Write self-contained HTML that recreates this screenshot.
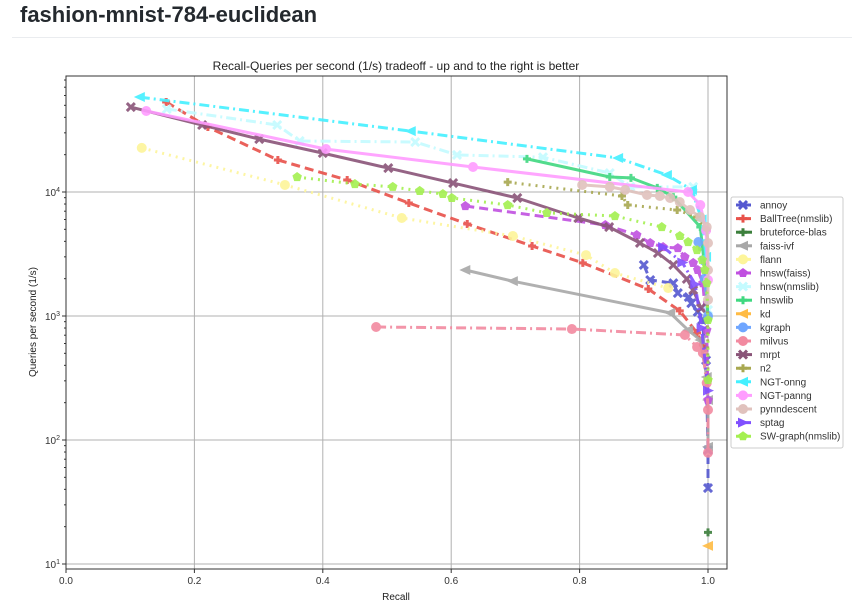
<!DOCTYPE html>
<html><head><meta charset="utf-8"><style>
body{margin:0;background:#fff;width:866px;height:616px;overflow:hidden;font-family:"Liberation Sans",sans-serif}
h1{position:absolute;left:20px;top:2px;margin:0;font-size:22px;font-weight:bold;color:#24292e}
#rule{position:absolute;left:12px;top:37px;width:840px;height:1px;background:#eaecef}
svg{position:absolute;left:0;top:0}
</style></head><body>
<h1>fashion-mnist-784-euclidean</h1>
<div id="rule"></div>
<svg id="chart" width="866" height="616"></svg>
<script>
const seriesNames=["annoy","BallTree(nmslib)","bruteforce-blas","faiss-ivf","flann","hnsw(faiss)","hnsw(nmslib)","hnswlib","kd","kgraph","milvus","mrpt","n2","NGT-onng","NGT-panng","pynndescent","sptag","SW-graph(nmslib)"];
const annoyX=[0.9,0.91,0.946,0.953,0.97,0.974,0.984,0.991,0.997,1.0,1.0];
const annoyY=[2580,1950,1840,1530,1420,1270,1080,930,440,83,41];
const ballX=[0.156,0.221,0.33,0.438,0.534,0.625,0.726,0.805,0.907,0.956,0.983,0.992];
const ballY=[53200,33400,18100,12500,8150,5520,3670,2680,1650,1100,730,583];
const bruteX=[1.0];
const bruteY=[18];
const faissX=[0.622,0.696,0.941,0.969,0.988,0.998,1.0,1.0];
const faissY=[2350,1910,1060,770,640,322,210,88];
const flannX=[0.118,0.341,0.523,0.696,0.81,0.855,0.938];
const flannY=[22700,11400,6170,4420,3100,2220,1680];
const hfaissX=[0.622,0.84,0.889,0.91,0.93,0.953,0.964,0.977,0.984,0.992,0.998,1.0];
const hfaissY=[7710,5420,4500,3880,3600,3530,2990,2680,2350,1840,770,210];
const hnmsX=[0.157,0.329,0.364,0.544,0.609,0.743,0.847,0.879,0.977,0.995,1.0];
const hnmsY=[46700,34700,25800,25300,19900,19100,14200,11000,11000,4900,1120];
const hlibX=[0.718,0.847,0.88,0.921,0.946,0.988,0.997,1.0];
const hlibY=[18500,13200,13000,10800,9100,5220,1950,930];
const kdX=[1.0];
const kdY=[14];
const kgraphX=[0.985,0.995,1.0];
const kgraphY=[3950,2000,1000];
const milvusX=[0.483,0.788,0.964,0.983,0.992,0.998,1.0,1.0];
const milvusY=[815,785,703,562,504,288,175,79];
const mrptX=[0.101,0.212,0.301,0.4,0.502,0.603,0.703,0.798,0.846,0.894,0.922,0.946,0.967,0.977,0.989];
const mrptY=[48400,34700,26700,20600,15600,11800,8950,6170,5220,3880,3220,2580,1990,1620,1160];
const n2X=[0.688,0.866,0.875,0.952,0.983,0.998,1.0];
const n2Y=[12000,9290,7850,7160,6280,4900,305];
const onngX=[0.115,0.537,0.86,0.936,0.975,0.99,0.997];
const onngY=[58300,31000,18800,13700,10400,6000,3000];
const panngX=[0.125,0.405,0.634,0.969,0.988,0.997,1.0];
const panngY=[45000,22200,15900,10000,7850,4900,1950];
const pynnX=[0.804,0.847,0.871,0.905,0.925,0.941,0.956,0.972,0.988,0.998,1.0,1.0,1.0];
const pynnY=[11400,11000,10400,9460,9290,8950,8300,7160,6280,5220,3880,2350,1350];
const sptagX=[0.93,0.96,0.98,0.99,1.0];
const sptagY=[3600,2700,1800,800,250];
const swX=[0.36,0.45,0.509,0.551,0.587,0.601,0.688,0.749,0.855,0.928,0.956,0.969,0.983,0.991,0.995,0.998,1.0,1.0];
const swY=[13200,11600,11000,10200,9640,8950,7850,6780,6400,5220,4420,3950,3400,2830,2350,1840,930,305];
const xTicks=[0.0,0.2,0.4,0.6,0.8,1.0];
const xTickLabels=["0.0","0.2","0.4","0.6","0.8","1.0"];
const yTickExps=[1,2,3,4];

const NS="http://www.w3.org/2000/svg";
const svg=document.getElementById('chart');
const L=66,R=727,T=76,B=569;
function xs(v){return 66+v*642;}
function ys(v){return 192-(Math.log10(v)-4)*124;}
function mk(tag,attrs,parent){const e=document.createElementNS(NS,tag);for(const k in attrs)e.setAttribute(k,attrs[k]);(parent||svg).appendChild(e);return e;}

const t=mk('text',{x:396,y:70,'text-anchor':'middle','font-size':12,fill:'#222'});


t.textContent='Recall-Queries per second (1/s) tradeoff - up and to the right is better';

// grid
xTicks.forEach((v,i)=>{
  const g=mk('line',{x1:xs(v),x2:xs(v),y1:T,y2:B,stroke:'#b0b0b0','stroke-width':1});
  
  
  mk('line',{x1:xs(v),x2:xs(v),y1:B,y2:B+4,stroke:'#333'});
  const lb=mk('text',{x:xs(v),y:B+15,'text-anchor':'middle','font-size':10,fill:'#333'});
  
  
  lb.textContent=xTickLabels[i];
});
yTickExps.forEach(e=>{
  const y=ys(Math.pow(10,e));
  const g=mk('line',{x1:L,x2:R,y1:y,y2:y,stroke:'#b0b0b0','stroke-width':1});
  
  
  mk('line',{x1:L-4,x2:L,y1:y,y2:y,stroke:'#333'});
  const lb=mk('text',{x:L-6,y:y+4,'text-anchor':'end','font-size':10,fill:'#333'});
  
  
  lb.innerHTML='10<tspan dy="-4" font-size="7">'+e+'</tspan>';
  for(let m=2;m<10;m++){const yy=ys(m*Math.pow(10,e));if(yy>T&&yy<B)mk('line',{x1:L-2,x2:L,y1:yy,y2:yy,stroke:'#333'});}
});
const fr=mk('rect',{x:L,y:T,width:R-L,height:B-T,fill:'none',stroke:'#333','stroke-width':1});


const xl=mk('text',{x:396,y:600,'text-anchor':'middle','font-size':10,fill:'#222'});


xl.textContent='Recall';
const yl=mk('text',{x:0,y:0,'text-anchor':'middle','font-size':10,fill:'#222',transform:'translate(36,322) rotate(-90)'});


yl.textContent='Queries per second (1/s)';

const dashes={solid:'',dashed:'9,5',dotted:'2,5',dashdot:'10,4,2,4'};
const styles=[
 ['#5558d0','dashed','x'],['#e8514a','dashed','+'],['#3c7f3c','solid','+'],['#a8a8a8','solid','<'],
 ['#fdf59a','dotted','o'],['#c050e0','dashed','p'],['#c4fbff','dashdot','x'],['#40d880','solid','+'],
 ['#ffbb44','dashed','<'],['#6fa6ff','dashed','o'],['#f28aa0','dashdot','o'],['#8a5478','solid','x'],
 ['#a8a850','dotted','+'],['#44f0ff','dashdot','<'],['#ff9cff','solid','o'],['#e0c2bd','solid','o'],
 ['#8050ff','dashdot','>'],['#a4f050','dotted','p']];
const data=[[annoyX,annoyY],[ballX,ballY],[bruteX,bruteY],[faissX,faissY],[flannX,flannY],[hfaissX,hfaissY],[hnmsX,hnmsY],[hlibX,hlibY],[kdX,kdY],[kgraphX,kgraphY],[milvusX,milvusY],[mrptX,mrptY],[n2X,n2Y],[onngX,onngY],[panngX,panngY],[pynnX,pynnY],[sptagX,sptagY],[swX,swY]];

function marker(g,type,x,y,c){
  const s=5;
  if(type==='o')mk('circle',{cx:x,cy:y,r:s,fill:c},g);
  else if(type==='p'){let p=[];for(let i=0;i<5;i++){const a=-Math.PI/2+i*2*Math.PI/5;p.push((x+s*Math.cos(a)).toFixed(1)+','+(y+s*Math.sin(a)).toFixed(1));}mk('polygon',{points:p.join(' '),fill:c},g);}
  else if(type==='<')mk('polygon',{points:`${x-s-1},${y} ${x+s},${y-s} ${x+s},${y+s}`,fill:c},g);
  else if(type==='>')mk('polygon',{points:`${x+s+1},${y} ${x-s},${y-s} ${x-s},${y+s}`,fill:c},g);
  else if(type==='x'){mk('path',{d:`M${x-4},${y-4}L${x+4},${y+4}M${x-4},${y+4}L${x+4},${y-4}`,stroke:c,'stroke-width':3},g);}
  else {mk('path',{d:`M${x-4},${y}L${x+4},${y}M${x},${y-4}L${x},${y+4}`,stroke:c,'stroke-width':3},g);}
}
const plot=mk('g',{});


data.forEach((d,i)=>{
  const [c,ls,m]=styles[i];
  const g=mk('g',{opacity:0.9},plot);
  
  
  const pts=d[0].map((v,k)=>xs(v).toFixed(1)+','+ys(d[1][k]).toFixed(1)).join(' ');
  if(d[0].length>1)mk('polyline',{points:pts,fill:'none',stroke:c,'stroke-width':3,'stroke-dasharray':dashes[ls],'stroke-linejoin':'round'},g);
  d[0].forEach((v,k)=>marker(g,m,xs(v),ys(d[1][k]),c));
});

// legend
const lg=mk('g',{});


mk('rect',{x:731,y:197,width:112,height:251,rx:2,fill:'#fff',stroke:'#ccc'},lg);
seriesNames.forEach((n,i)=>{
  const [c,ls,m]=styles[i];
  const y=205+i*13.6;
  const e=mk('g',{},lg);
  
  
  mk('line',{x1:736,x2:752,y1:y,y2:y,stroke:c,'stroke-width':3,'stroke-dasharray':ls==='solid'?'':'6,3'},e);
  marker(e,m,743,y,c);
  const tx=mk('text',{x:760,y:y+3.5,'font-size':10,fill:'#333'},e);
  tx.textContent=n;
});
</script>
</body></html>
